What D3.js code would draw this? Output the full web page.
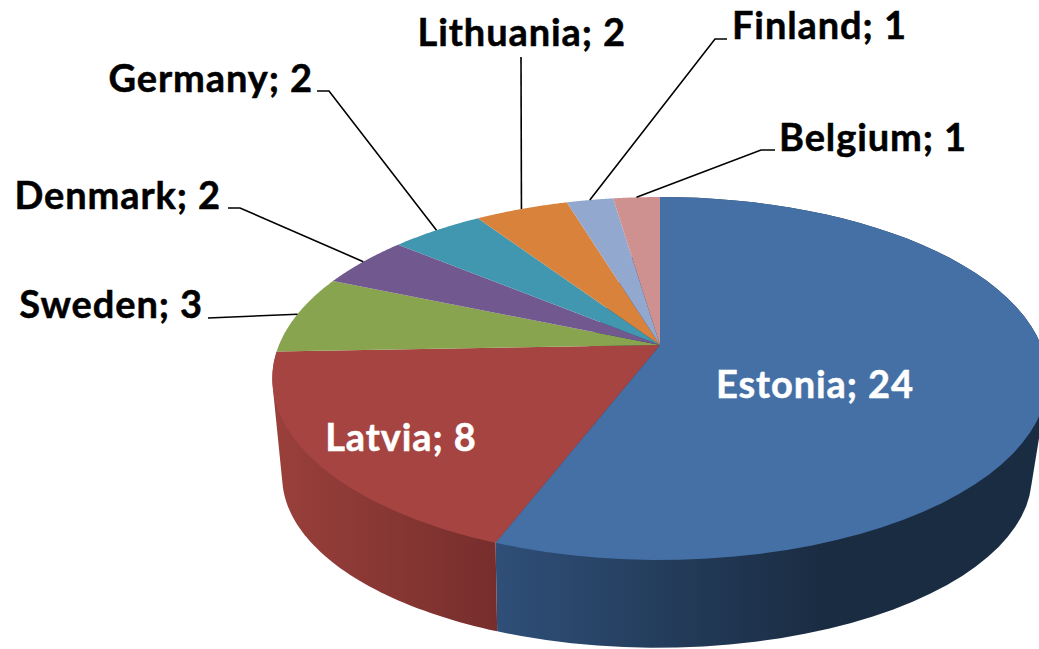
<!DOCTYPE html>
<html>
<head>
<meta charset="utf-8">
<script src="https://cdn.jsdelivr.net/npm/d3@7"></script>
<style>
  html, body { margin: 0; padding: 0; background: #fff; overflow: hidden; }
  svg { display: block; }
  text { font-family: Lato, "Open Sans", sans-serif; font-weight: 700; letter-spacing: 0.9px; stroke-width: 0.5px; }
</style>
</head>
<body>
<div id="chart"></div>
<script>
const countries = ['Estonia', 'Latvia', 'Sweden', 'Denmark', 'Germany', 'Lithuania', 'Finland', 'Belgium'];
const counts = [24, 8, 3, 2, 2, 2, 1, 1];
const colors = ['#4570a6', '#a64441', '#89a44e', '#71588f', '#4197af', '#d9823c', '#93a8cf', '#cf9190'];

const width = 1039, height = 649;

// the two discs of the pie, seen in perspective
const topDisc = { cx: 660, cy: 345, a: 175.3, b: 381, k: 0.1846 };
const bottomDisc = { cx: 657, cy: 444, a: 165, b: 368, k: 0.19 };

// angle is clockwise from 12 o'clock, like d3.pie
function project(disc, angle) {
  const dx = Math.sin(angle);
  const dy = -Math.cos(angle); // positive towards the viewer
  const w = 1 - disc.k * dy;
  return [disc.cx + disc.b * dx / w, disc.cy + disc.a * dy / w];
}

const line = d3.line();
const arcAngles = (start, end) => d3.range(0, 61).map(i => start + (end - start) * i / 60);

const slices = d3.pie().sort(null).value(d => d)(counts);

const svg = d3.select('#chart').append('svg')
  .attr('width', width)
  .attr('height', height);

// side wall shading
const wallShades = [
  { x1: 497, x2: 820, from: '#2f4f78', to: '#1a2c42' },
  { x1: 272, x2: 499, from: '#9a403b', to: '#762e2c' }
];
const defs = svg.append('defs');
wallShades.forEach((s, i) => {
  const g = defs.append('linearGradient')
    .attr('id', `wall-${i}`)
    .attr('gradientUnits', 'userSpaceOnUse')
    .attr('x1', s.x1).attr('x2', s.x2).attr('y1', 0).attr('y2', 0);
  g.append('stop').attr('offset', 0).attr('stop-color', s.from);
  g.append('stop').attr('offset', 1).attr('stop-color', s.to);
});

// walls first, the top face covers the back part
// hull of both rims so the sides run straight from one disc to the other
svg.append('g')
  .selectAll('path')
  .data(slices.slice(0, 2))
  .enter()
  .append('path')
  .attr('d', d => {
    const angles = arcAngles(d.startAngle, d.endAngle);
    const upper = angles.map(a => project(topDisc, a));
    const lower = angles.map(a => project(bottomDisc, a));
    return line(d3.polygonHull(upper.concat(lower))) + 'Z';
  })
  .attr('fill', (d, i) => `url(#wall-${i})`);

// top face
svg.append('g')
  .selectAll('path')
  .data(slices)
  .enter()
  .append('path')
  .attr('d', d => {
    const rim = arcAngles(d.startAngle, d.endAngle).map(a => project(topDisc, a));
    return line([[topDisc.cx, topDisc.cy]].concat(rim)) + 'Z';
  })
  .attr('fill', (d, i) => colors[i]);

// label placement: x, baseline y, anchor, leader elbows
const labelLayout = {
  Estonia: { x: 815, y: 398, anchor: 'middle', fill: '#fff' },
  Latvia: { x: 401, y: 451, anchor: 'middle', fill: '#fff' },
  Sweden: { x: 203, y: 318, anchor: 'end', leader: [[208, 318]] },
  Denmark: { x: 221, y: 209, anchor: 'end', leader: [[228, 208], [240, 208]] },
  Germany: { x: 313, y: 92, anchor: 'end', leader: [[317, 91], [329, 91]] },
  Lithuania: { x: 626, y: 46, anchor: 'end', leader: [[521, 57]] },
  Finland: { x: 732, y: 39, anchor: 'start', leader: [[727, 39], [715, 39]] },
  Belgium: { x: 779, y: 151, anchor: 'start', leader: [[775, 150], [761, 150]] }
};

// leader lines end on the rim at the middle of the slice
svg.append('g')
  .selectAll('path')
  .data(slices.filter((d, i) => labelLayout[countries[i]].leader))
  .enter()
  .append('path')
  .attr('d', d => {
    const layout = labelLayout[countries[d.index]];
    const end = project(topDisc, (d.startAngle + d.endAngle) / 2);
    return line(layout.leader.concat([end]));
  })
  .attr('fill', 'none')
  .attr('stroke', '#000')
  .attr('stroke-width', 1.6);

svg.append('g')
  .selectAll('text')
  .data(countries)
  .enter()
  .append('text')
  .attr('x', d => labelLayout[d].x)
  .attr('y', d => labelLayout[d].y)
  .attr('text-anchor', d => labelLayout[d].anchor)
  .attr('fill', d => labelLayout[d].fill || '#000')
  .attr('stroke', d => labelLayout[d].fill || '#000')
  .attr('font-size', 38)
  .text((d, i) => `${d}; ${counts[i]}`);
</script>
</body>
</html>
